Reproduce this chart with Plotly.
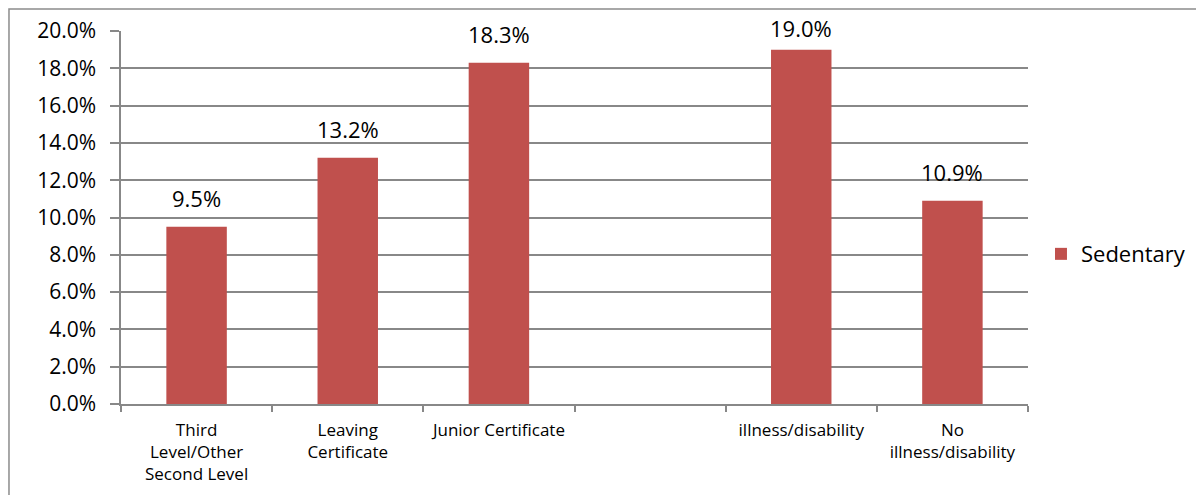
import plotly.graph_objects as go

categories = ["Third<br>Level/Other<br>Second Level", "Leaving<br>Certificate", "Junior Certificate", " ", "illness/disability", "No<br>illness/disability"]
values = [0.095, 0.132, 0.183, None, 0.190, 0.109]
labels = ["9.5%", "13.2%", "18.3%", "", "19.0%", "10.9%"]
series_name = "Sedentary"
y_ticks = [0, 0.02, 0.04, 0.06, 0.08, 0.10, 0.12, 0.14, 0.16, 0.18, 0.20]
y_max = 0.20

FONT = "Open Sans"
BAR = "#C0504D"
GRID = "#888888"

W, H = 1196, 495
M_L, M_R, M_T, M_B = 121, 168, 31, 91
plot_h = H - M_T - M_B

fig = go.Figure()
fig.add_trace(go.Bar(x=categories, y=values, name=series_name, marker=dict(color=BAR, line=dict(width=0)),
                     showlegend=True))

# data labels: placed above each bar, kept inside the chart area like the original
for c, v, t in zip(categories, values, labels):
    if v is None:
        continue
    bar_top = M_T + (1 - v / y_max) * plot_h
    center = max(bar_top - 27, M_T - 1)
    fig.add_annotation(x=c, y=v, text=t, showarrow=False, yanchor="middle", yshift=bar_top - center + 2,
                       font=dict(family=FONT, size=22, color="#000000"))

fig.add_shape(type="rect", xref="paper", yref="paper", x0=-0.1235, x1=1.2, y0=-0.3, y1=1.059,
              line=dict(color="#8c8c8c", width=1.5), fillcolor="rgba(0,0,0,0)", layer="below")

fig.update_layout(
    width=W, height=H,
    margin=dict(l=M_L, r=M_R, t=M_T, b=M_B, autoexpand=False),
    plot_bgcolor="white", paper_bgcolor="white",
    bargap=0.6,
    font=dict(family=FONT, color="#000000"),
    legend=dict(x=1.0143, y=0.402, xanchor="left", yanchor="middle", font=dict(family=FONT, size=22),
                itemwidth=30, tracegroupgap=0),
    xaxis=dict(type="category", categoryorder="array", categoryarray=categories,
               showline=True, linecolor=GRID, linewidth=1.5,
               ticks="outside", tickson="boundaries", ticklen=6, tickcolor=GRID, tickwidth=1.5,
               tickfont=dict(family=FONT, size=17), showgrid=False, tickangle=0,
               ticklabelstandoff=10),
    yaxis=dict(range=[0, y_max], tickvals=y_ticks, tickformat=".1%",
               showline=True, linecolor=GRID, linewidth=1.5,
               ticks="outside", ticklen=9, tickcolor=GRID, tickwidth=1.5,
               showgrid=True, gridcolor=GRID, gridwidth=1.5, zeroline=False,
               tickfont=dict(family=FONT, size=21), ticklabelstandoff=10),
)

fig.write_html("out.html")
